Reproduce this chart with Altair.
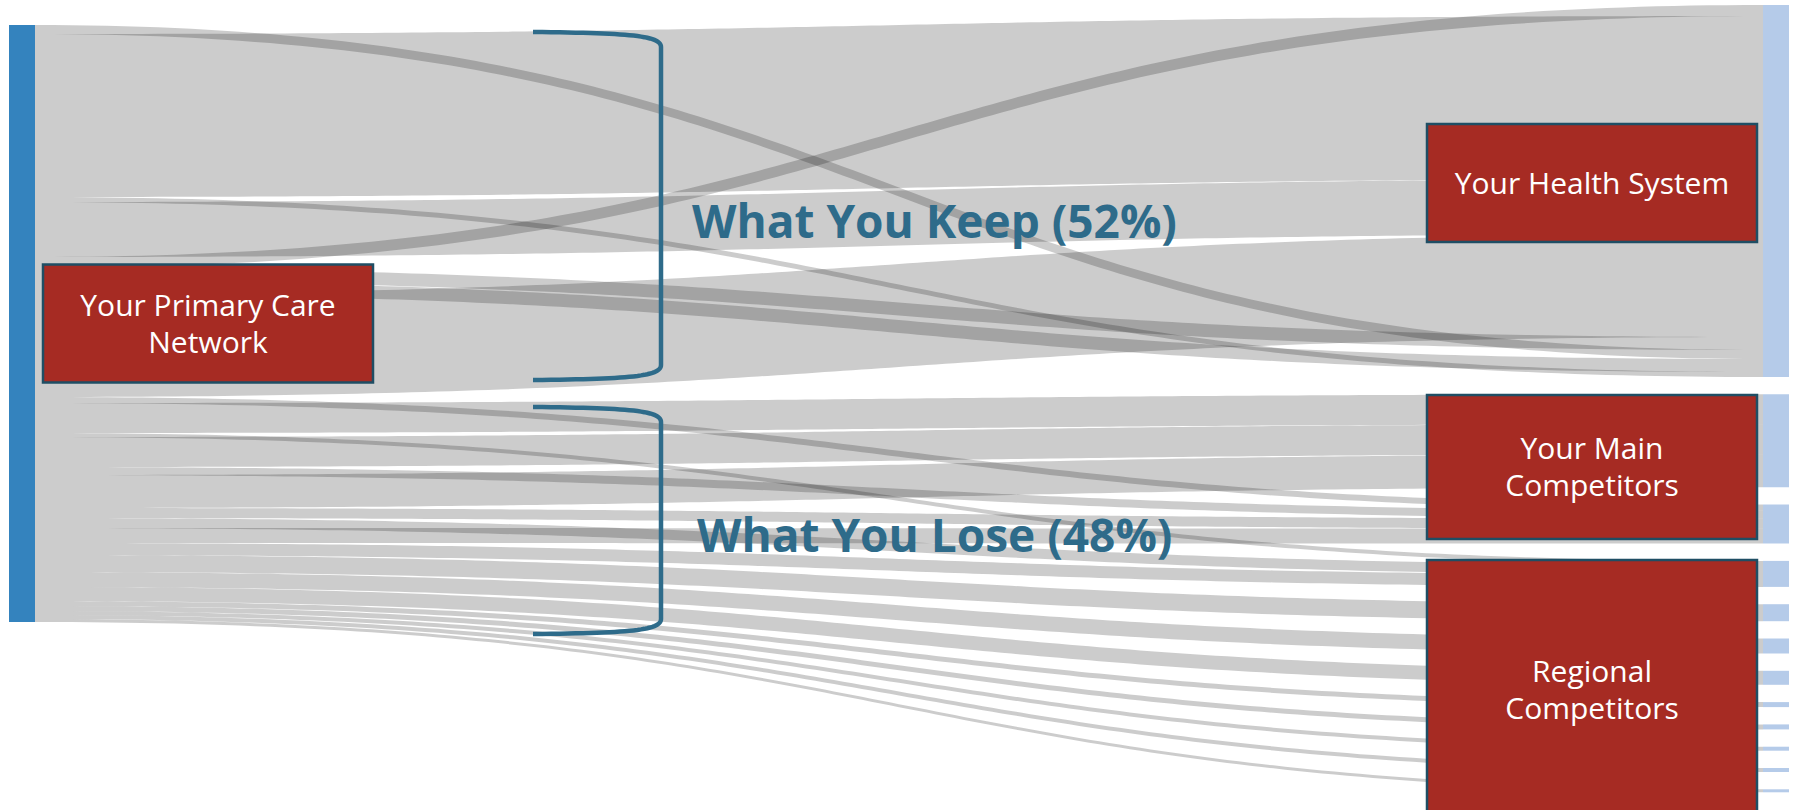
import altair as alt
import numpy as np
import pandas as pd

# ---------------- data ----------------
# Patient flows leaving "Your Primary Care Network", listed in the order they leave the left node
link_names = ["k1", "k2", "k3", "k4", "k5", "k6", "k7", "k8",
              "l1", "l2", "l3", "l4", "l5", "l6", "l7", "l8", "l9",
              "l10", "l11", "l12", "l13", "l14", "l15", "l16", "l17", "l18"]
link_values = [9, 163, 5, 55, 11, 13, 13, 103,
               6, 30, 4, 30, 8, 33, 10, 10, 15,
               12, 17, 15, 14, 5, 5, 4, 4, 3]

# destination nodes (right side, top to bottom) and the group each belongs to
right_nodes = ["HS", "MC1", "MC2", "RC1", "RC2", "RC3", "RC4", "RC5", "RC6", "RC7", "RC8", "RC9"]
right_groups = ["Your Health System", "Your Main Competitors", "Your Main Competitors",
                "Regional Competitors", "Regional Competitors", "Regional Competitors",
                "Regional Competitors", "Regional Competitors", "Regional Competitors",
                "Regional Competitors", "Regional Competitors", "Regional Competitors"]
# order in which the flows arrive at each destination node (top to bottom)
right_order = {
    "HS": ["k5", "k2", "k4", "k8", "k6", "k1", "k7", "k3"],
    "MC1": ["l2", "l4", "l6"],
    "MC2": ["l1", "l5", "l7", "l9"],
    "RC1": ["l3", "l8", "l10"],
    "RC2": ["l11"], "RC3": ["l12"], "RC4": ["l13"], "RC5": ["l14"],
    "RC6": ["l15"], "RC7": ["l16"], "RC8": ["l17"], "RC9": ["l18"],
}

box_labels = ["Your Primary Care\nNetwork", "Your Health System",
              "Your Main\nCompetitors", "Regional\nCompetitors"]
heading_labels = ["What You Keep (52%)", "What You Lose (48%)"]

# ---------------- layout / style ----------------
W, H = 1797, 810
LEFT_BAR = (9, 35)
RIGHT_BAR = (1763, 1789)
LEFT_TOP = 25
RIGHT_TOP = 5
RIGHT_GAP = 17.3
TEAL = "#2e6b8a"
BOX_FILL = "#a62b23"
BOX_STROKE = "#1f4e64"
LABEL_LH = 37

val = dict(zip(link_names, link_values))

# left stacking
left_pos = {}
y = LEFT_TOP
for n, v in zip(link_names, link_values):
    left_pos[n] = y
    y += v
left_bottom = y

# right stacking
right_pos = {}
node_ext = {}
y = RIGHT_TOP
for node in right_nodes:
    start = y
    for n in right_order[node]:
        right_pos[n] = y
        y += val[n]
    node_ext[node] = (start, y)
    y += RIGHT_GAP

# sankey link curves (cubic bezier with control points at mid x)
X0, X1 = LEFT_BAR[1], RIGHT_BAR[0]
t = np.linspace(0, 1, 141)
xf = 1.5 * t * (1 - t) + t ** 3
sf = 3 * t ** 2 - 2 * t ** 3
rows = []
for n in link_names:
    xs = X0 + (X1 - X0) * xf
    ys = left_pos[n] + (right_pos[n] - left_pos[n]) * sf
    for xi, yi in zip(xs, ys):
        rows.append({"link": n, "x": float(xi), "y": float(yi), "y2": float(yi + val[n])})
links_df = pd.DataFrame(rows)

left_df = pd.DataFrame([{"x": LEFT_BAR[0], "x2": LEFT_BAR[1], "y": LEFT_TOP, "y2": left_bottom}])
right_df = pd.DataFrame([{"node": nd, "x": RIGHT_BAR[0], "x2": RIGHT_BAR[1],
                          "y": node_ext[nd][0], "y2": node_ext[nd][1]} for nd in right_nodes])


def group_ext(g):
    ns = [nd for nd, gg in zip(right_nodes, right_groups) if gg == g]
    return node_ext[ns[0]][0], node_ext[ns[-1]][1]


hs = group_ext("Your Health System")
mc = group_ext("Your Main Competitors")
rc = group_ext("Regional Competitors")
box_geom = [
    # x0, x1, center y, height
    (43, 373, (LEFT_TOP + left_bottom) / 2, 118),
    (1427, 1757, (hs[0] + hs[1]) / 2 - 8, 118),
    (1427, 1757, (mc[0] + mc[1]) / 2 - 2, 144),
    (1427, 1757, rc[0] - 1 + 130, 260),
]
box_rows = []
for lab, g in zip(box_labels, box_geom):
    nlines = lab.count("\n") + 1
    box_rows.append({"label": lab, "x": g[0], "x2": g[1], "y": g[2] - g[3] / 2, "y2": g[2] + g[3] / 2,
                     "cx": (g[0] + g[1]) / 2, "ty": g[2] - (nlines - 1) * LABEL_LH / 2 + 1.5})
box_df = pd.DataFrame(box_rows)

# brackets
keep_ext = (LEFT_TOP, left_pos["l1"])
lose_ext = (left_pos["l1"], left_bottom)
bracket_spans = [("keep", keep_ext[0] + 7, keep_ext[1] - 17), ("lose", lose_ext[0] + 10, lose_ext[1] + 12)]
BX0, BX1 = 533, 661
u = np.linspace(0, 1, 30)


def bez(p0, p1, p2, p3, uu):
    return ((1 - uu) ** 3)[:, None] * p0 + (3 * (1 - uu) ** 2 * uu)[:, None] * p1 + \
           (3 * (1 - uu) * uu ** 2)[:, None] * p2 + (uu ** 3)[:, None] * p3


br_rows = []
for name, ya, yb in bracket_spans:
    top = bez(np.array([BX0, ya]), np.array([625, ya + 1]), np.array([BX1, ya + 3]), np.array([BX1, ya + 15]), u)
    bot = bez(np.array([BX1, yb - 15]), np.array([BX1, yb - 3]), np.array([625, yb - 1]), np.array([BX0, yb]), u)
    pts = np.vstack([top, bot])
    for i, (px, py) in enumerate(pts):
        br_rows.append({"name": name, "i": i, "x": float(px), "y": float(py)})
br_df = pd.DataFrame(br_rows)

head_df = pd.DataFrame([{"label": heading_labels[0], "x": 692, "y": 238},
                        {"label": heading_labels[1], "x": 697, "y": 552}])

# ---------------- chart ----------------
xsc = alt.Scale(domain=[0, W], nice=False, zero=False)
ysc = alt.Scale(domain=[0, H], reverse=True, nice=False, zero=False)


def X(f):
    return alt.X(f, scale=xsc, axis=None)


def Y(f):
    return alt.Y(f, scale=ysc, axis=None)


links = alt.Chart(links_df).mark_area(color="#000000", opacity=0.2, interpolate="linear").encode(
    x=X("x:Q"), y=Y("y:Q"), y2="y2:Q", detail="link:N")

left_bar = alt.Chart(left_df).mark_rect(color="#3483be").encode(
    x=X("x:Q"), x2="x2:Q", y=Y("y:Q"), y2="y2:Q")

right_bars = alt.Chart(right_df).mark_rect(color="#b5cbe9").encode(
    x=X("x:Q"), x2="x2:Q", y=Y("y:Q"), y2="y2:Q")

boxes = alt.Chart(box_df).mark_rect(fill=BOX_FILL, stroke=BOX_STROKE, strokeWidth=2.5).encode(
    x=X("x:Q"), x2="x2:Q", y=Y("y:Q"), y2="y2:Q")

box_text = alt.Chart(box_df).mark_text(color="white", font="Open Sans", fontSize=30, lineBreak="\n",
                                       lineHeight=LABEL_LH, align="center", baseline="middle").encode(
    x=X("cx:Q"), y=Y("ty:Q"), text="label:N")

brackets = alt.Chart(br_df).mark_line(color=TEAL, strokeWidth=4.5, strokeCap="butt").encode(
    x=X("x:Q"), y=Y("y:Q"), detail="name:N", order="i:Q")

heads = alt.Chart(head_df).mark_text(color=TEAL, font="Open Sans", fontSize=46, fontWeight="bold",
                                     align="left", baseline="alphabetic").encode(
    x=X("x:Q"), y=Y("y:Q"), text="label:N")

chart = alt.layer(links, left_bar, right_bars, boxes, box_text, brackets, heads).properties(
    width=W, height=H, autosize=alt.AutoSizeParams(type="none"), padding=0, background="white"
).configure_view(stroke=None)

chart.save("out.html", embed_options={"renderer": "svg", "actions": False})
